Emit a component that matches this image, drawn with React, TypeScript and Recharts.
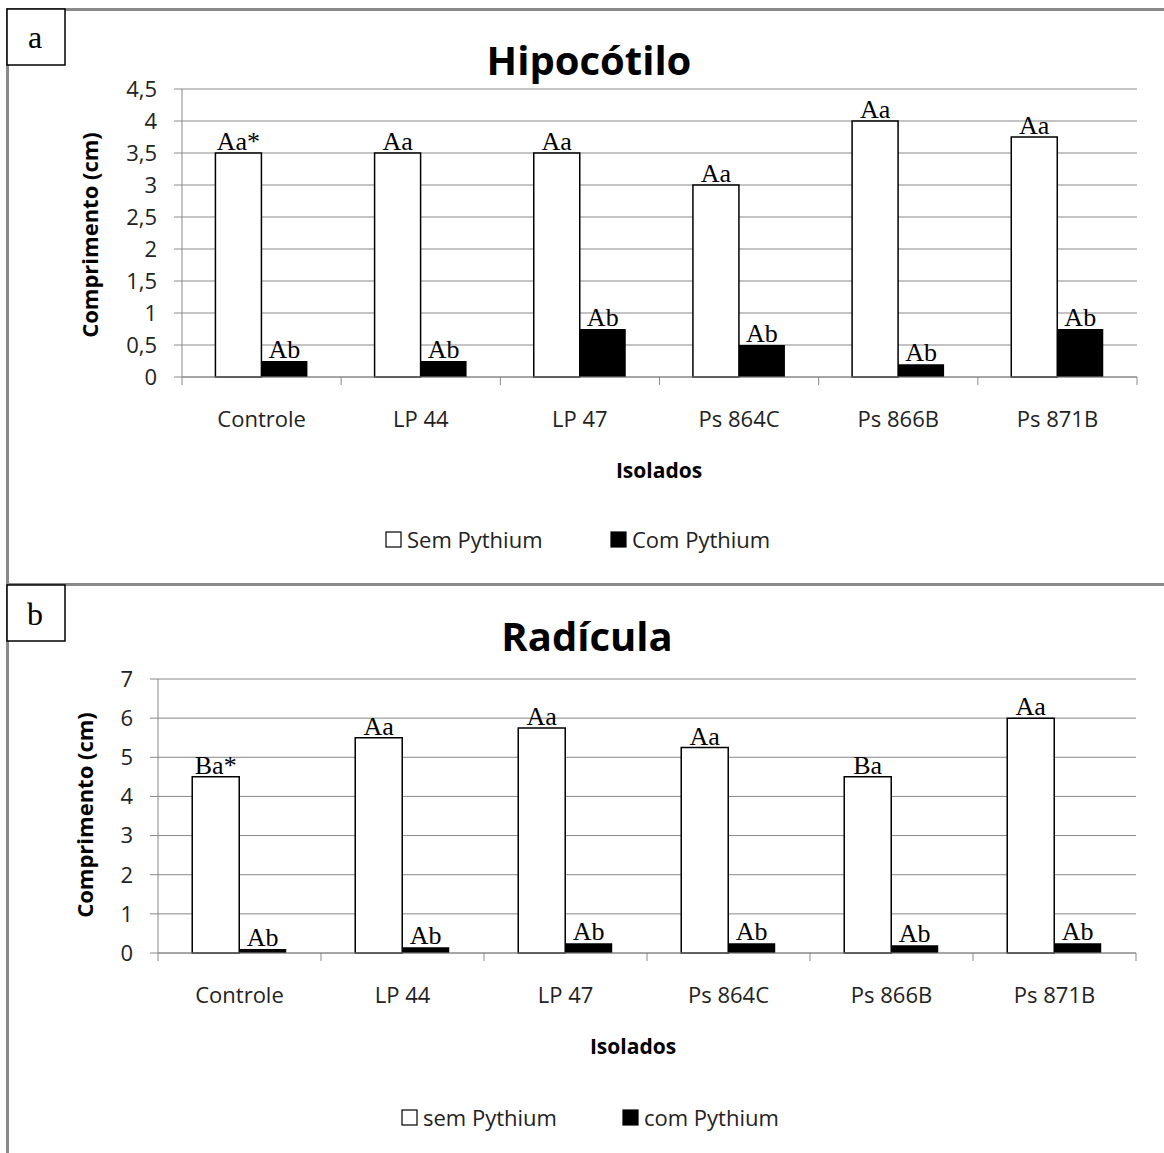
import React from "react";
import { BarChart, Bar, XAxis, YAxis, CartesianGrid, LabelList } from "recharts";

// categorias (isolados)
const categories = ["Controle", "LP 44", "LP 47", "Ps 864C", "Ps 866B", "Ps 871B"];

// a) Hipocótilo
const hipoSem = [3.5, 3.5, 3.5, 3.0, 4.0, 3.75];
const hipoCom = [0.25, 0.25, 0.75, 0.5, 0.2, 0.75];
const hipoSemLetters = ["Aa*", "Aa", "Aa", "Aa", "Aa", "Aa"];
const hipoComLetters = ["Ab", "Ab", "Ab", "Ab", "Ab", "Ab"];
const hipoTicks = [0, 0.5, 1, 1.5, 2, 2.5, 3, 3.5, 4, 4.5];
const hipoSeries = ["Sem Pythium", "Com Pythium"];

// b) Radícula
const radSem = [4.5, 5.5, 5.75, 5.25, 4.5, 6.0];
const radCom = [0.1, 0.15, 0.25, 0.25, 0.2, 0.25];
const radSemLetters = ["Ba*", "Aa", "Aa", "Aa", "Ba", "Aa"];
const radComLetters = ["Ab", "Ab", "Ab", "Ab", "Ab", "Ab"];
const radTicks = [0, 1, 2, 3, 4, 5, 6, 7];
const radSeries = ["sem Pythium", "com Pythium"];

const W = 1164;
const H = 1153;
const GRID = "#888888";
const SANS = "'Open Sans', sans-serif";
const SERIF = "'Liberation Serif', 'Times New Roman', serif";

function buildRows(sem: number[], com: number[], semL: string[], comL: string[]) {
  return categories.map((name, i) => ({
    name,
    sem: sem[i],
    com: com[i],
    semLabel: semL[i],
    comLabel: comL[i],
  }));
}

const fmt = (v: number) => String(v).replace(".", ",");

// tick marks on the category boundaries, label in the middle
function makeXTick(band: number, count: number) {
  return (props: any) => {
    const { x, y, payload, index } = props;
    const half = band / 2;
    return (
      <g>
        <line x1={x - half} y1={y} x2={x - half} y2={y + 8} stroke={GRID} />
        {index === count - 1 && (
          <line x1={x + half} y1={y} x2={x + half} y2={y + 8} stroke={GRID} />
        )}
        <text x={x} y={y + 50} textAnchor="middle" fontFamily={SANS} fontSize={22} fill="#222">
          {payload.value}
        </text>
      </g>
    );
  };
}

type PanelProps = {
  rows: any[];
  ticks: number[];
  names: string[];
  top: number;
  height: number;
  margin: { top: number; right: number; bottom: number; left: number };
  yWidth: number;
};

function Panel({ rows, ticks, names, top, height, margin, yWidth }: PanelProps) {
  const plotWidth = W - margin.left - margin.right - yWidth;
  const band = plotWidth / rows.length;
  return (
    <div style={{ position: "absolute", left: 0, top }}>
      <BarChart width={W} height={height} data={rows} margin={margin} barCategoryGap="21%" barGap={0}>
        <CartesianGrid vertical={false} stroke={GRID} />
        <XAxis
          dataKey="name"
          stroke={GRID}
          tickLine={false}
          tickSize={0}
          tickMargin={0}
          height={60}
          interval={0}
          tick={makeXTick(band, rows.length)}
        />
        <YAxis
          width={yWidth}
          domain={[0, ticks[ticks.length - 1]]}
          ticks={ticks}
          interval={0}
          stroke={GRID}
          tickSize={8}
          tickMargin={17}
          tickFormatter={fmt}
          tick={{ fill: "#222", fontSize: 22, fontFamily: SANS }}
        />
        <Bar dataKey="sem" name={names[0]} fill="#ffffff" stroke="#000" strokeWidth={1.5} isAnimationActive={false}>
          <LabelList dataKey="semLabel" position="top" offset={3} fill="#000" fontSize={26} fontFamily={SERIF} />
        </Bar>
        <Bar dataKey="com" name={names[1]} fill="#000000" isAnimationActive={false}>
          <LabelList dataKey="comLabel" position="top" offset={3} fill="#000" fontSize={26} fontFamily={SERIF} />
        </Bar>
      </BarChart>
    </div>
  );
}

function LegendRow({ names, x, y, step }: { names: string[]; x: number; y: number; step: number }) {
  const fills = ["#ffffff", "#000000"];
  return (
    <g>
      {names.map((n, i) => (
        <g key={n}>
          <rect x={x + i * step} y={y - 16} width={15} height={15} fill={fills[i]} stroke="#000" strokeWidth={1.2} />
          <text x={x + i * step + 21} y={y} fontFamily={SANS} fontSize={22} fill="#222">
            {n}
          </text>
        </g>
      ))}
    </g>
  );
}

export default function App() {
  const hipoRows = buildRows(hipoSem, hipoCom, hipoSemLetters, hipoComLetters);
  const radRows = buildRows(radSem, radCom, radSemLetters, radComLetters);

  return (
    <div style={{ position: "absolute", left: 0, top: 0, width: W, height: H, background: "#fff" }}>
      <svg width={W} height={H} style={{ position: "absolute", left: 0, top: 0 }}>
        {/* moldura */}
        <line x1={7} y1={9.5} x2={W} y2={9.5} stroke="#8a8a8a" strokeWidth={3} />
        <line x1={7.5} y1={8} x2={7.5} y2={H} stroke="#8a8a8a" strokeWidth={3} />
        <line x1={7} y1={584.5} x2={W} y2={584.5} stroke="#8a8a8a" strokeWidth={3} />

        <rect x={7} y={9} width={58} height={56} fill="#fff" stroke="#000" strokeWidth={1.5} />
        <text x={35} y={48} textAnchor="middle" fontFamily={SERIF} fontSize={32} fill="#000">a</text>
        <rect x={7} y={585} width={58} height={56} fill="#fff" stroke="#000" strokeWidth={1.5} />
        <text x={35} y={625} textAnchor="middle" fontFamily={SERIF} fontSize={32} fill="#000">b</text>

        {/* títulos */}
        <text x={589} y={75} textAnchor="middle" fontFamily={SANS} fontWeight="bold" fontSize={40} fill="#000">Hipocótilo</text>
        <text x={587} y={651} textAnchor="middle" fontFamily={SANS} fontWeight="bold" fontSize={40} fill="#000">Radícula</text>

        <text x={98} y={235} transform="rotate(-90 98 235)" textAnchor="middle" fontFamily={SANS} fontWeight="bold" fontSize={22} fill="#000">Comprimento (cm)</text>
        <text x={93} y={815} transform="rotate(-90 93 815)" textAnchor="middle" fontFamily={SANS} fontWeight="bold" fontSize={22} fill="#000">Comprimento (cm)</text>

        <text x={659} y={478} textAnchor="middle" fontFamily={SANS} fontWeight="bold" fontSize={21} fill="#000">Isolados</text>
        <text x={633} y={1054} textAnchor="middle" fontFamily={SANS} fontWeight="bold" fontSize={21} fill="#000">Isolados</text>

        <LegendRow names={hipoSeries} x={386} y={548} step={225} />
        <LegendRow names={radSeries} x={402} y={1126} step={221} />
      </svg>

      <Panel
        rows={hipoRows}
        ticks={hipoTicks}
        names={hipoSeries}
        top={0}
        height={583}
        margin={{ top: 89, right: 27, bottom: 146, left: 0 }}
        yWidth={182}
      />
      <Panel
        rows={radRows}
        ticks={radTicks}
        names={radSeries}
        top={583}
        height={570}
        margin={{ top: 96, right: 28, bottom: 140, left: 0 }}
        yWidth={158}
      />
    </div>
  );
}
